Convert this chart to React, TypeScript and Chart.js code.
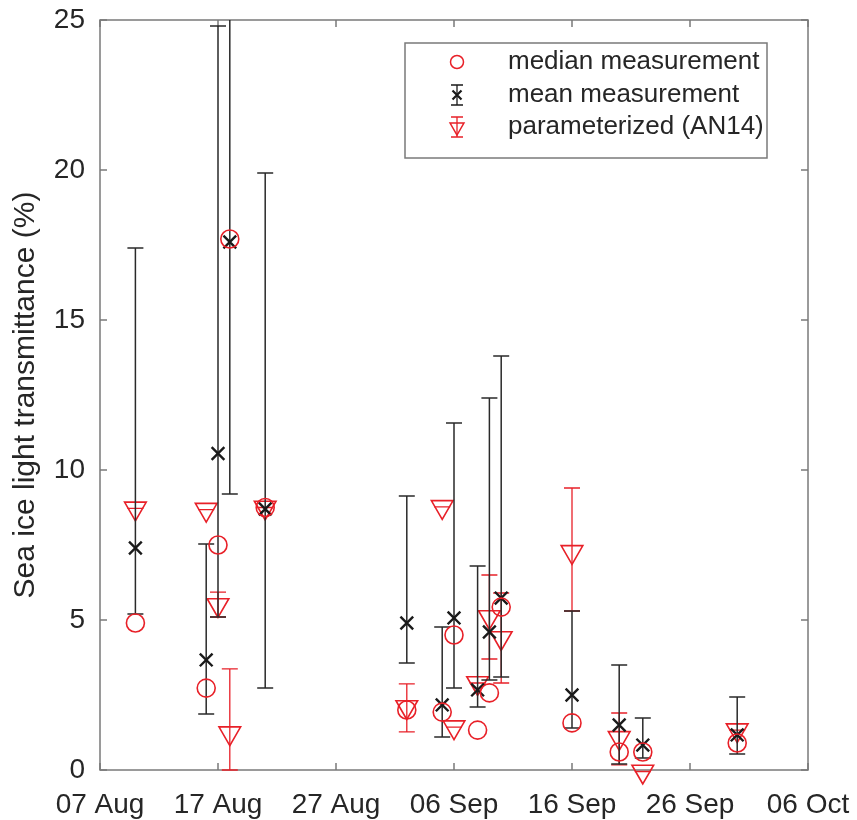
import { useEffect, useRef } from "react";
import { Chart, registerables } from "chart.js";

Chart.register(...registerables);

// ---- data ----
const referenceDate = "08-07"; // 07 Aug = day 0
const dates = ["08-10", "08-16", "08-17", "08-18", "08-21", "09-02", "09-05", "09-06", "09-08", "09-09", "09-10", "09-16", "09-20", "09-22", "09-30"];
const medianValues = [4.9, 2.73, 7.5, 17.7, 8.75, 2.0, 1.93, 4.5, 1.33, 2.57, 5.43, 1.57, 0.6, 0.6, 0.9];
const meanValues = [7.4, 3.67, 10.55, 17.6, 8.7, 4.9, 2.17, 5.07, 2.67, 4.6, 5.73, 2.5, 1.5, 0.83, 1.17];
const meanLow = [5.2, 1.87, 5.1, 9.2, 2.73, 3.57, 1.1, 2.73, 2.1, 3.0, 3.1, 1.4, 0.2, 0.4, 0.53];
const meanHigh = [17.4, 7.53, 24.8, 27.0, 19.9, 9.13, 4.77, 11.57, 6.8, 12.4, 13.8, 5.3, 3.5, 1.73, 2.43];
const paramValues = [8.72, 8.68, 5.5, 1.23, 8.75, 2.1, 8.77, 1.43, 2.9, 5.1, 4.4, 7.27, 1.07, -0.05, 1.33];
const paramLow = [8.72, 8.68, 5.1, 0, 8.75, 1.27, 8.77, 1.43, 2.9, 3.7, 2.9, 5.3, 0.17, -0.05, 1.33];
const paramHigh = [8.72, 8.68, 5.93, 3.37, 8.75, 2.87, 8.77, 1.43, 2.9, 6.5, 5.9, 9.4, 1.9, -0.05, 1.33];
const xTickLabels = ["07 Aug", "17 Aug", "27 Aug", "06 Sep", "16 Sep", "26 Sep", "06 Oct"];
const yTickValues = [0, 5, 10, 15, 20, 25];
const legendLabels = ["median measurement", "mean measurement", "parameterized (AN14)"];
const yAxisTitle = "Sea ice light transmittance (%)";

const RED = "rgb(232,32,40)";
const BLACK = "#1a1a1a";
const TEXT = "#262626";
const AXIS = "#7a7a7a";
const FONT = '"Liberation Sans", Arial, Helvetica, sans-serif';

function dayOffset(md: string): number {
  const [m, d] = md.split("-").map(Number);
  const [rm, rd] = referenceDate.split("-").map(Number);
  return (Date.UTC(2015, m - 1, d) - Date.UTC(2015, rm - 1, rd)) / 86400000;
}

const xs = dates.map(dayOffset);

const errorBarPlugin = {
  id: "errorBars",
  beforeDatasetDraw(chart: any, args: any) {
    const ds = chart.data.datasets[args.index];
    if (!ds.errLow) return;
    const { ctx, chartArea: a } = chart;
    const xS = chart.scales.x;
    const yS = chart.scales.y;
    const cap = 8;
    ctx.save();
    ctx.beginPath();
    ctx.rect(a.left - 20, a.top, a.right - a.left + 40, a.bottom - a.top + 3);
    ctx.clip();
    ctx.strokeStyle = ds.errColor;
    ctx.lineWidth = ds.errWidth;
    ds.data.forEach((p: any, i: number) => {
      const px = xS.getPixelForValue(p.x);
      const pl = yS.getPixelForValue(ds.errLow[i]);
      const ph = yS.getPixelForValue(ds.errHigh[i]);
      ctx.beginPath();
      ctx.moveTo(px, pl);
      ctx.lineTo(px, ph);
      ctx.moveTo(px - cap, pl);
      ctx.lineTo(px + cap, pl);
      ctx.moveTo(px - cap, ph);
      ctx.lineTo(px + cap, ph);
      ctx.stroke();
    });
    ctx.restore();
  },
};

const axesBoxPlugin = {
  id: "axesBox",
  beforeDatasetsDraw(chart: any) {
    const { ctx, chartArea: a } = chart;
    const tl = 7;
    ctx.save();
    ctx.strokeStyle = AXIS;
    ctx.lineWidth = 1.5;
    ctx.strokeRect(a.left, a.top, a.right - a.left, a.bottom - a.top);
    ctx.beginPath();
    chart.scales.x.ticks.forEach((t: any) => {
      const px = chart.scales.x.getPixelForValue(t.value);
      ctx.moveTo(px, a.bottom);
      ctx.lineTo(px, a.bottom - tl);
      ctx.moveTo(px, a.top);
      ctx.lineTo(px, a.top + tl);
    });
    chart.scales.y.ticks.forEach((t: any) => {
      const py = chart.scales.y.getPixelForValue(t.value);
      ctx.moveTo(a.left, py);
      ctx.lineTo(a.left + tl, py);
      ctx.moveTo(a.right, py);
      ctx.lineTo(a.right - tl, py);
    });
    ctx.stroke();
    ctx.restore();
  },
};

function triangleDown(ctx: CanvasRenderingContext2D, x: number, y: number, r: number) {
  ctx.beginPath();
  for (let k = 0; k < 3; k++) {
    const ang = Math.PI + (k * 2 * Math.PI) / 3;
    const px = x + Math.sin(ang) * r;
    const py = y - Math.cos(ang) * r;
    if (k === 0) ctx.moveTo(px, py);
    else ctx.lineTo(px, py);
  }
  ctx.closePath();
  ctx.stroke();
}

const legendPlugin = {
  id: "boxLegend",
  afterDatasetsDraw(chart: any) {
    const { ctx } = chart;
    const bx = 405, by = 43, bw = 362, bh = 115;
    ctx.save();
    ctx.fillStyle = "#ffffff";
    ctx.fillRect(bx, by, bw, bh);
    ctx.strokeStyle = AXIS;
    ctx.lineWidth = 1.5;
    ctx.strokeRect(bx, by, bw, bh);
    const sx = 457;
    const rows = [62, 95, 127];
    // median
    ctx.strokeStyle = RED;
    ctx.lineWidth = 1.5;
    ctx.beginPath();
    ctx.arc(sx, rows[0], 6.5, 0, Math.PI * 2);
    ctx.stroke();
    // mean
    ctx.strokeStyle = BLACK;
    ctx.lineWidth = 1.3;
    ctx.beginPath();
    ctx.moveTo(sx, rows[1] - 10);
    ctx.lineTo(sx, rows[1] + 10);
    ctx.moveTo(sx - 6, rows[1] - 10);
    ctx.lineTo(sx + 6, rows[1] - 10);
    ctx.moveTo(sx - 6, rows[1] + 10);
    ctx.lineTo(sx + 6, rows[1] + 10);
    ctx.stroke();
    ctx.lineWidth = 2.2;
    ctx.beginPath();
    ctx.moveTo(sx - 4.5, rows[1] - 4.5);
    ctx.lineTo(sx + 4.5, rows[1] + 4.5);
    ctx.moveTo(sx + 4.5, rows[1] - 4.5);
    ctx.lineTo(sx - 4.5, rows[1] + 4.5);
    ctx.stroke();
    // param
    ctx.strokeStyle = RED;
    ctx.lineWidth = 1.3;
    ctx.beginPath();
    ctx.moveTo(sx, rows[2] - 10);
    ctx.lineTo(sx, rows[2] + 10);
    ctx.moveTo(sx - 6, rows[2] - 10);
    ctx.lineTo(sx + 6, rows[2] - 10);
    ctx.moveTo(sx - 6, rows[2] + 10);
    ctx.lineTo(sx + 6, rows[2] + 10);
    ctx.stroke();
    ctx.lineWidth = 1.5;
    triangleDown(ctx, sx, rows[2], 8);
    // text
    ctx.fillStyle = TEXT;
    ctx.font = `26px ${FONT}`;
    ctx.textBaseline = "middle";
    ctx.textAlign = "left";
    legendLabels.forEach((t, i) => ctx.fillText(t, 508, rows[i]));
    ctx.restore();
  },
};

export default function App() {
  const ref = useRef<HTMLCanvasElement | null>(null);

  useEffect(() => {
    document.body.style.margin = "0";
    const canvas = ref.current;
    if (!canvas) return;
    const chart = new Chart(canvas, {
      type: "scatter",
      data: {
        datasets: [
          {
            label: legendLabels[0],
            data: xs.map((x, i) => ({ x, y: medianValues[i] })),
            pointStyle: "circle",
            pointRadius: 9,
            pointBorderWidth: 1.6,
            pointBorderColor: RED,
            pointBackgroundColor: "rgba(0,0,0,0)",
            showLine: false,
            clip: false,
          } as any,
          {
            label: legendLabels[1],
            data: xs.map((x, i) => ({ x, y: meanValues[i] })),
            pointStyle: "crossRot",
            pointRadius: 9,
            pointBorderWidth: 2.4,
            pointBorderColor: BLACK,
            showLine: false,
            clip: false,
            errLow: meanLow,
            errHigh: meanHigh,
            errColor: "#2a2a2a",
            errWidth: 1.5,
          } as any,
          {
            label: legendLabels[2],
            data: xs.map((x, i) => ({ x, y: paramValues[i] })),
            pointStyle: "triangle",
            pointRotation: 180,
            pointRadius: 12.5,
            pointBorderWidth: 1.6,
            pointBorderColor: RED,
            pointBackgroundColor: "rgba(0,0,0,0)",
            showLine: false,
            clip: false,
            errLow: paramLow,
            errHigh: paramHigh,
            errColor: RED,
            errWidth: 1.3,
          } as any,
        ],
      },
      options: {
        animation: false,
        responsive: false,
        devicePixelRatio: 1,
        layout: { padding: { top: 20, right: 49, left: 0, bottom: 0 } },
        plugins: { legend: { display: false }, tooltip: { enabled: false } },
        scales: {
          x: {
            type: "linear",
            min: 0,
            max: 60,
            grid: { display: false, drawTicks: false },
            border: { display: false },
            ticks: {
              stepSize: 10,
              autoSkip: false,
              maxRotation: 0,
              padding: 18,
              color: TEXT,
              font: { family: FONT, size: 28 },
              callback: (v: any) => xTickLabels[Math.round(Number(v) / 10)] ?? "",
            },
            afterFit: (s: any) => {
              s.height = 50;
              s.paddingLeft = 0;
              s.paddingRight = 0;
              s.paddingTop = 0;
              s.paddingBottom = 0;
            },
          },
          y: {
            min: 0,
            max: 25,
            afterBuildTicks: (s: any) => {
              s.ticks = yTickValues.map((v) => ({ value: v }));
            },
            grid: { display: false, drawTicks: false },
            border: { display: false },
            ticks: {
              padding: 15,
              color: TEXT,
              font: { family: FONT, size: 28 },
            },
            title: {
              display: true,
              text: yAxisTitle,
              color: TEXT,
              font: { family: FONT, size: 30 },
              padding: { top: 8, bottom: 0 },
            },
            afterFit: (s: any) => {
              s.width = 100;
              s.paddingTop = 0;
              s.paddingBottom = 0;
              s.paddingLeft = 0;
              s.paddingRight = 0;
            },
          },
        },
      },
      plugins: [axesBoxPlugin, errorBarPlugin, legendPlugin],
    });
    return () => chart.destroy();
  }, []);

  return (
    <div style={{ width: 857, height: 820 }}>
      <canvas ref={ref} width={857} height={820} style={{ display: "block" }} />
    </div>
  );
}
